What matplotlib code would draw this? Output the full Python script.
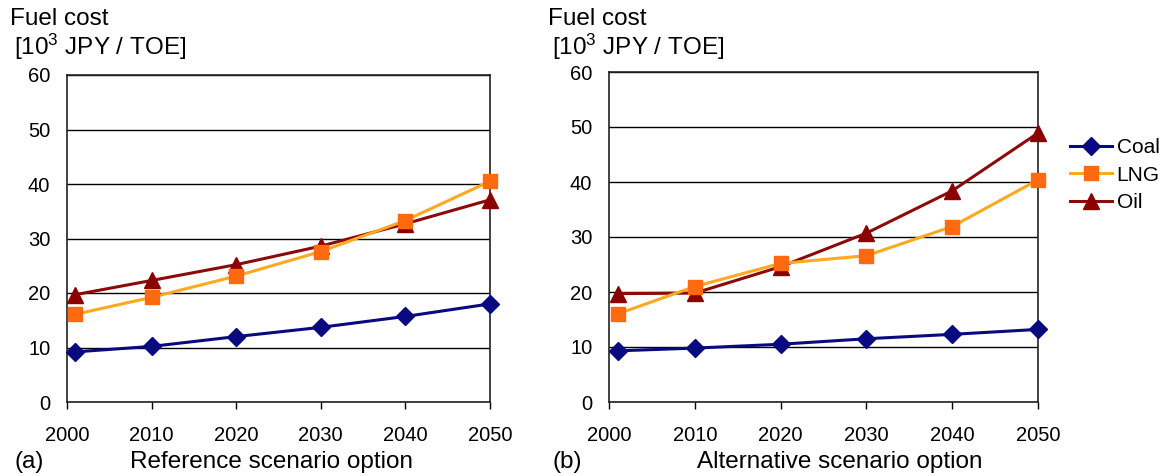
import matplotlib
matplotlib.use('Agg')
import matplotlib.pyplot as plt

plt.rcParams['font.family'] = ['Liberation Sans', 'DejaVu Sans']
plt.rcParams['mathtext.default'] = 'regular'

# data (first point sits just after 2000)
years = [2001, 2010, 2020, 2030, 2040, 2050]
year_ticks = [2000, 2010, 2020, 2030, 2040, 2050]

ref_coal = [9.2, 10.2, 12.0, 13.7, 15.7, 18.0]
ref_lng = [16.1, 19.2, 23.1, 27.6, 33.3, 40.5]
ref_oil = [19.7, 22.3, 25.2, 28.6, 32.7, 37.1]

alt_coal = [9.3, 9.8, 10.5, 11.5, 12.3, 13.2]
alt_lng = [16.0, 21.0, 25.2, 26.6, 31.9, 40.4]
alt_oil = [19.7, 19.8, 24.6, 30.7, 38.4, 48.9]

W, H = 1161, 476
fig = plt.figure(figsize=(W / 100, H / 100), dpi=100)
ax1 = fig.add_axes([67 / W, 1 - 402 / H, 423 / W, 327 / H])
ax2 = fig.add_axes([609 / W, 1 - 402 / H, 429 / W, 330 / H])


def draw(ax, coal, lng, oil):
    ax.plot(years, coal, color='#0a0a80', lw=2.2, marker='D', ms=9,
            mfc='#0a0a80', mec='#0a0a80', label='Coal', zorder=3)
    ax.plot(years, lng, color='#ffa820', lw=2.2, marker='s', ms=10,
            mfc='#ff6a10', mec='#ff6a10', label='LNG', zorder=4)
    ax.plot(years, oil, color='#8b0a0a', lw=2.2, marker='^', ms=11,
            mfc='#8b0000', mec='#8b0000', label='Oil', zorder=3)
    ax.set_xlim(2000, 2050)
    ax.set_ylim(0, 60)
    ax.set_xticks(year_ticks)
    ax.set_yticks(range(0, 61, 10))
    ax.yaxis.grid(True, color='black', lw=1)
    ax.set_axisbelow(True)
    ax.tick_params(axis='y', length=0, pad=12, labelsize=14.5)
    ax.tick_params(axis='x', length=5, width=1, direction='out', pad=12, labelsize=14.5)
    for s in ax.spines.values():
        s.set_linewidth(1.2)
        s.set_color('#222222')
    for ln in ax.lines:
        ln.set_clip_on(False)


draw(ax1, ref_coal, ref_lng, ref_oil)
draw(ax2, alt_coal, alt_lng, alt_oil)

# y axis titles
fig.text(10 / W, 1 - 19 / H, 'Fuel cost', fontsize=17.5, va='center')
fig.text(14 / W, 1 - 47 / H, '[10$^3$ JPY / TOE]', fontsize=17.5, va='center')
fig.text(548 / W, 1 - 19 / H, 'Fuel cost', fontsize=17.5, va='center')
fig.text(552 / W, 1 - 47 / H, '[10$^3$ JPY / TOE]', fontsize=17.5, va='center')

# panel captions
fig.text(14 / W, 1 - 462 / H, '(a)', fontsize=17.5, va='center')
fig.text(272 / W, 1 - 462 / H, 'Reference scenario option', fontsize=17.5,
         va='center', ha='center')
fig.text(552 / W, 1 - 462 / H, '(b)', fontsize=17.5, va='center')
fig.text(840 / W, 1 - 462 / H, 'Alternative scenario option', fontsize=17.5,
         va='center', ha='center')

ax2.legend(loc='upper left', bbox_to_anchor=((1075 - 609) / 429 - 0.012, (402 - 138) / 330),
           frameon=False, fontsize=15, handlelength=2.0, labelspacing=0.42,
           handletextpad=0.25, borderaxespad=0, borderpad=0)

fig.savefig('out.png', dpi=100)
